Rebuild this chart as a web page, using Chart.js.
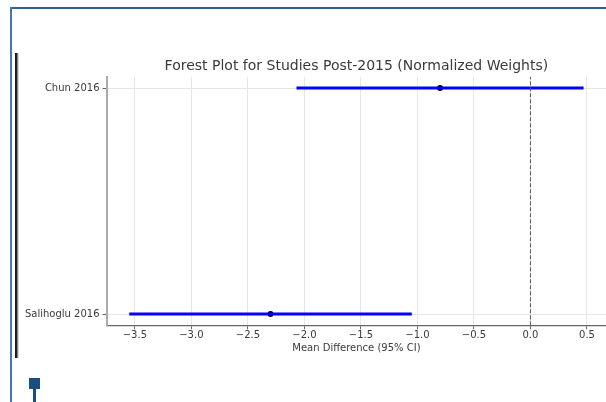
<!DOCTYPE html>
<html>
<head>
<meta charset="utf-8">
<script src="https://cdn.jsdelivr.net/npm/chart.js@4/dist/chart.umd.min.js"></script>
<style>
  html, body { margin: 0; padding: 0; width: 606px; height: 402px; overflow: hidden; background: #fff; }
  #wrap { position: absolute; left: 0; top: 0; width: 640px; height: 402px; }
  .frame-top { position: absolute; left: 10px; top: 7px; width: 600px; height: 2px; background: #2f6196; }
  .frame-left { position: absolute; left: 10px; top: 7px; width: 2px; height: 400px; background: #4678aa; }
  .rule { position: absolute; left: 15px; top: 53px; width: 4px; height: 305px;
          background: linear-gradient(to right, #111 0, #222 40%, #bbb 75%, #eee 100%); }
  .marker { position: absolute; left: 29px; top: 378px; width: 11px; height: 11px; background: #1b4d80; }
  .stem { position: absolute; left: 33px; top: 389px; width: 3px; height: 14px; background: #1b4d80; }
</style>
</head>
<body>
<div class="frame-top"></div>
<div class="frame-left"></div>
<div class="rule"></div>
<div class="marker"></div>
<div class="stem"></div>
<div id="wrap"><canvas id="chart" width="640" height="402"></canvas></div>
<script>
// Study rows, top to bottom
const studies = ['Chun 2016', 'Salihoglu 2016'];
// Mean difference and 95% confidence limits per study
const meanDiff = [-0.80, -2.30];
const ciLow = [-2.07, -3.55];
const ciHigh = [0.47, -1.05];
// X-axis tick values
const xTicks = [-3.5, -3.0, -2.5, -2.0, -1.5, -1.0, -0.5, 0.0, 0.5];

const FONT = 'DejaVu Sans';
const TEXT = '#3a3a3a';

// Row positions: first study at the top
const rowY = studies.map((_, i) => studies.length - 1 - i);

// Axis limits with a 5% margin around the data
const lo = Math.min(...ciLow), hi = Math.max(...ciHigh);
const xMargin = (hi - lo) * 0.05;
const xMin = lo - xMargin, xMax = hi + xMargin;
const yMin = -0.05, yMax = (studies.length - 1) + 0.05;

const datasets = [];
// Reference line at zero effect
datasets.push({
  data: [{ x: 0, y: yMin }, { x: 0, y: yMax }],
  showLine: true, pointRadius: 0, borderColor: '#555', borderWidth: 1,
  borderDash: [4, 2]
});
// Confidence-interval bars
studies.forEach((s, i) => {
  datasets.push({
    data: [{ x: ciLow[i], y: rowY[i] }, { x: ciHigh[i], y: rowY[i] }],
    showLine: true, pointRadius: 0, borderColor: '#0000ff', borderWidth: 3,
    borderCapStyle: 'butt'
  });
});
// Point estimates
datasets.push({
  data: studies.map((s, i) => ({ x: meanDiff[i], y: rowY[i] })),
  pointRadius: 3, pointBackgroundColor: '#000', pointBorderWidth: 0
});

const fmt = v => v.toFixed(1).replace('-', '\u2212');

new Chart(document.getElementById('chart'), {
  type: 'scatter',
  data: { datasets },
  options: {
    responsive: false,
    animation: false,
    events: [],
    layout: { padding: { left: 0, right: 640 - 606.3, top: 0, bottom: 48 } },
    plugins: {
      legend: { display: false },
      tooltip: { enabled: false },
      title: {
        display: true,
        text: 'Forest Plot for Studies Post-2015 (Normalized Weights)',
        fullSize: false,
        color: TEXT,
        font: { family: FONT, size: 14, weight: 'normal', lineHeight: 1.2 },
        padding: { top: 58.1, bottom: 1.8 }
      }
    },
    scales: {
      x: {
        type: 'linear',
        min: xMin, max: xMax,
        afterBuildTicks: sc => { sc.ticks = xTicks.map(v => ({ value: v })); },
        afterFit: sc => { sc.height = 28.7; },
        ticks: { color: TEXT, font: { family: FONT, size: 10 }, padding: 0, maxRotation: 0,
                 callback: v => fmt(v) },
        grid: { color: '#e6e6e6', lineWidth: 1, tickLength: 4, tickColor: '#666' },
        border: { color: '#666', width: 1.3 },
        title: { display: true, text: 'Mean Difference (95% CI)', color: TEXT,
                 font: { family: FONT, size: 10 }, padding: { top: 0, bottom: 0 } }
      },
      y: {
        type: 'linear',
        min: yMin, max: yMax,
        afterBuildTicks: sc => { sc.ticks = rowY.map(v => ({ value: v })); },
        afterFit: sc => { sc.width = 106.5; },
        ticks: { color: TEXT, font: { family: FONT, size: 10 }, padding: 3,
                 callback: v => studies[rowY.indexOf(v)] },
        grid: { color: '#e6e6e6', lineWidth: 1, tickLength: 4, tickColor: '#666' },
        border: { color: '#aaa', width: 2 }
      }
    }
  }
});
</script>
</body>
</html>
